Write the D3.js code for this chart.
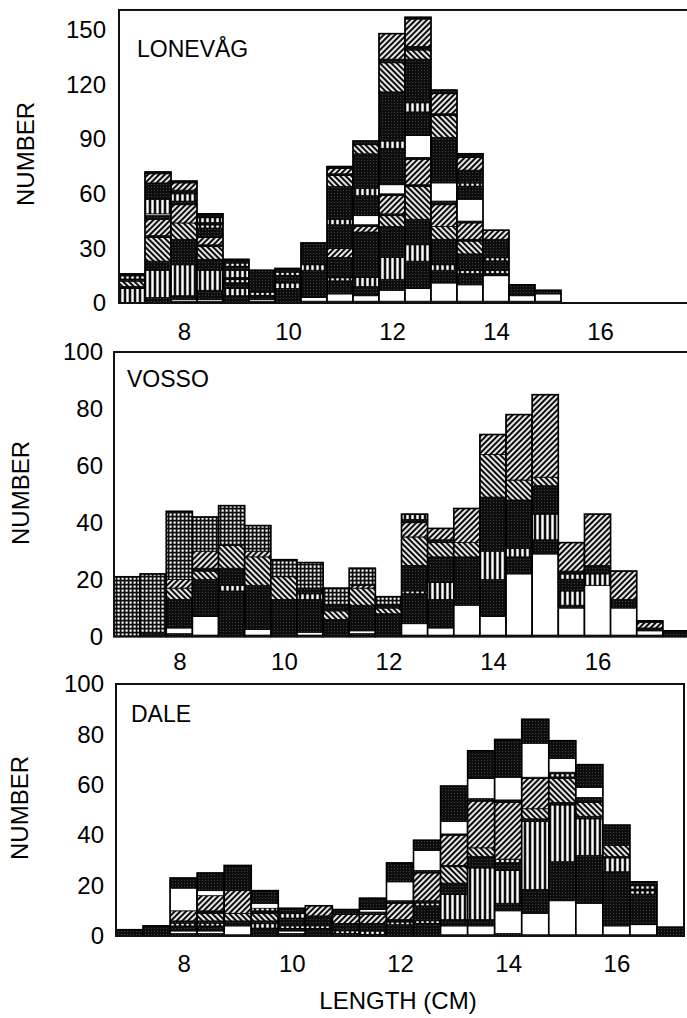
<!DOCTYPE html>
<html>
<head>
<meta charset="utf-8">
<script src="https://cdn.jsdelivr.net/npm/d3@7/dist/d3.min.js"></script>
<style>
  body { margin: 0; background: #fff; }
  text { font-family: "Liberation Sans", Arial, Helvetica, sans-serif; fill: #000; }
</style>
</head>
<body>
<div id="vis"></div>
<script>
/*
Data
*/

// bin centres (cm), bins are 0.5 cm wide
const binCentres = [7, 7.5, 8, 8.5, 9, 9.5, 10, 10.5, 11, 11.5, 12, 12.5,
                    13, 13.5, 14, 14.5, 15, 15.5, 16, 16.5, 17, 17.5];

// one string per bin, stacked bottom to top: class code + count
// w = open, k = stippled, v = vertical bars, d = dashes, f = hatch /, b = hatch \, g = grid
const lonevagStacks = [
  "v8 k1 b3 k1 d2 k1",
  "k3 v15 k5 b13 k1 f9 k2 w1 v8 k9 f5 k1",
  "k1 w1 k2 v17 k14 b9 f10 k2 v4 k2 f4 k1",
  "k1 w1 k5 v11 k6 b7 k1 f4 k5 d2 k1 d3 k2",
  "k4 v4 k3 d2 k1 v4 k2 d2 k2",
  "k1 w1 k2 d2 k12",
  "k8 v3 k4 d2 k2",
  "k1 w2 k15 v3 k12",
  "k1 w4 k7 d2 k11 f5 k13 v3 k18 b6 k1 f3 k1",
  "k1 w3 k5 v5 k25 f3 k1 w5 k11 v4 k19 b5 k2",
  "k1 w6 k6 v12 k17 b6 k1 f10 k1 w5 k20 v4 k27 b16 k2 f14",
  "k1 w7 k15 v9 k14 b18 k1 f14 k1 w12 k13 v5 k24 b5 k2 f15 k1",
  "k1 w10 k7 v3 k14 b7 f12 k2 w10 k25 b12 k1 f11 k2",
  "k1 w9 k6 d2 k9 b7 k1 f9 k1 w12 k7 d2 k7 f7 k2",
  "k1 w14 k1 d2 k5 d2 k10 f5",
  "k1 w3 k6",
  "k1 w4 k2",
  "", "", "", "", ""
];

const vossoStacks = [
  "g21",
  "k1 g21",
  "k1 w2 k10 b4 f3 g24",
  "k0.5 w6.5 k13 b3 k1 f6 g12",
  "k16 v2 k6 b8 g14",
  "k0.5 w2 k15.5 b10 f2 g9",
  "k13 b8 g6",
  "k0.5 w1 k11.5 v2 k2 g9",
  "k6 b3 k2 g6",
  "k1 w1 k9 b6 f1 g6",
  "k8 b2 k1 g3",
  "k0.5 w4 k10.5 d1 k9 b10 f5 k1 d2",
  "k0.5 w2.5 k10 v6 k9 b5 k1 f4",
  "k0.5 w10.5 k17 b5 f12",
  "k0.5 w6.5 k13 v10 k19 b15 f7",
  "k0.5 w21.5 k6 v3 k17 b7 f23",
  "k0.5 w28.5 k5 v9 k10 b3 f29",
  "k0.5 w9.5 k1 v5 k4 d2 k1 f10",
  "k0.5 w17.5 v4 k3 f18",
  "k0.5 w9.5 k3 f10",
  "k0.5 w1.5 k1 f2 k0.5",
  "k2"
];

const daleStacks = [
  "k2.5",
  "k4",
  "k1 w1 k2 d1 k1 f4 w9 k4",
  "k1 w1 k2 d1 k1 b3 k1 f6 w2 k7",
  "k0.5 w3.5 k2 b3 f9 k10",
  "k3 d2 k1 b3 k1 d1 w2 k5",
  "k1 w1 k1 d1 k3 d2 k2",
  "k3 d1 k4 f4",
  "k1 d1 k3 f3.5 k2",
  "k0.5 d1.5 k3 f3.5 k1 w1 k4.5",
  "k4.5 d1 k1 f6.5 k1 w7.5 k7.5",
  "k5 d1 k6 d1 k1 f11 k1 w8 k4",
  "k0.5 w3.5 k2.5 v10 k4.5 b6.5 k0.5 f12 k0.5 w5 k14",
  "k0.5 w3.5 k2.5 v20.5 k4.5 b3.5 f18.5 k1 w8 k11",
  "k1 w9 k3 v13 k3 d1.5 f22.5 k1 w9 k15",
  "k0.5 w8.5 k9.5 v27 k1 b4 f12 k0.5 w13.5 k9.5",
  "k0.5 w13.5 k15.5 v22.5 k1 b9.5 k0.5 d1.5 k0.5 w5.5 k7",
  "k0.5 w12.5 k19 v14.5 k1 b5.5 k2 w4 k9",
  "k0.5 w3.5 k21.5 v5.5 k0.5 b4.5 k8",
  "k0.5 w4 k12 d1.5 k0.5 d1.5 k1.5",
  "k3.5",
  ""
];

const lonevagTicks = [0, 30, 60, 90, 120, 150];
const numberTicks = [0, 20, 40, 60, 80, 100];
const lengthTicks = [8, 10, 12, 14, 16];

/*
Layout (the scanned panels are not quite the same size)
*/

const panels = [
  {name: "LONEVÅG", stacks: lonevagStacks, yTicks: lonevagTicks,
   yDomain: [0, 150], yRange: [303, 30], yMax: 161,
   xDomain: [6.75, 17.75], xRange: [119, 691],
   yPad: 13, xPad: 19.5, nameX: 137, nameY: 57, titleX: 26, titleY: 154},
  {name: "VOSSO", stacks: vossoStacks, yTicks: numberTicks,
   yDomain: [0, 100], yRange: [636.5, 352], yMax: 100,
   xDomain: [6.75, 17.75], xRange: [114, 689],
   yPad: 11, xPad: 16.5, nameX: 127, nameY: 387, titleX: 21, titleY: 493},
  {name: "DALE", stacks: daleStacks, yTicks: numberTicks,
   yDomain: [0, 100], yRange: [936, 684], yMax: 100,
   xDomain: [6.75, 17.25], xRange: [116, 684],
   yPad: 12, xPad: 18.5, nameX: 131, nameY: 722, titleX: 20, titleY: 808}
];

const WIDTH = 687;
const HEIGHT = 1018;

/*
Functions
*/

// turns "w3 k10 f2" into segments with cumulative bottoms and tops
function stackSegments(code) {
  let top = 0;
  return code.split(" ").filter(s => s.length).map(s => {
    const seg = {kind: s[0], y0: top, y1: top + (+s.slice(1))};
    top = seg.y1;
    return seg;
  });
}

const svg = d3.select("#vis")
              .append("svg")
              .attr("width", WIDTH)
              .attr("height", HEIGHT);

/*
Fill patterns
*/

const defs = svg.append("defs");

const stipple = defs.append("pattern").attr("id", "pk")
                    .attr("width", 3).attr("height", 3)
                    .attr("patternUnits", "userSpaceOnUse");
stipple.append("rect").attr("width", 3).attr("height", 3).attr("fill", "#0e0e0e");
stipple.append("rect").attr("x", 1).attr("y", 1).attr("width", 1).attr("height", 1).attr("fill", "#404040");

function stripePattern(id, period, white, angle) {
  const p = defs.append("pattern").attr("id", id)
                .attr("width", period).attr("height", period)
                .attr("patternUnits", "userSpaceOnUse")
                .attr("patternTransform", `rotate(${angle})`);
  p.append("rect").attr("width", period).attr("height", period).attr("fill", "#0e0e0e");
  p.append("rect").attr("x", (period - white) / 2).attr("width", white)
   .attr("height", period).attr("fill", "#fff");
}
stripePattern("pf", 4, 1.8, 45);
stripePattern("pb", 4, 1.8, -45);
stripePattern("pv", 5, 2.4, 0);

const grid = defs.append("pattern").attr("id", "pg")
                 .attr("width", 4).attr("height", 4)
                 .attr("patternUnits", "userSpaceOnUse");
grid.append("rect").attr("width", 4).attr("height", 4).attr("fill", "#0e0e0e");
grid.append("rect").attr("x", 1.5).attr("y", 1.5).attr("width", 2.2).attr("height", 2.2).attr("fill", "#fff");

const fillFor = {w: "#fff", k: "url(#pk)", v: "url(#pv)", d: "url(#pk)",
                 f: "url(#pf)", b: "url(#pb)", g: "url(#pg)"};

/*
Main
*/

panels.forEach(p => {
  const x = d3.scaleLinear().domain(p.xDomain).range(p.xRange);
  const y = d3.scaleLinear().domain(p.yDomain).range(p.yRange);
  const bw = x(0.5) - x(0);

  const g = svg.append("g").attr("class", "panel");

  const barData = binCentres.map((c, i) => ({centre: c, segs: stackSegments(p.stacks[i])}))
                            .filter(d => d.segs.length);

  const bars = g.selectAll("g.bar")
                .data(barData)
                .join("g")
                .attr("class", "bar");

  bars.selectAll("rect.seg")
      .data(d => d.segs.map(s => ({...s, centre: d.centre})))
      .join("rect")
      .attr("class", "seg")
      .attr("x", d => x(d.centre - 0.25))
      .attr("y", d => y(d.y1))
      .attr("width", bw)
      .attr("height", d => y(d.y0) - y(d.y1))
      .attr("fill", d => fillFor[d.kind])
      .attr("stroke", "#000")
      .attr("stroke-width", 0.8);

  // dashed bands: a short row of white ticks inside a dark band
  bars.selectAll("rect.dash")
      .data(d => d.segs.filter(s => s.kind === "d").map(s => ({...s, centre: d.centre})))
      .join("rect")
      .attr("class", "dash")
      .attr("x", d => x(d.centre - 0.25) + 1)
      .attr("width", bw - 2)
      .attr("y", d => {
        const h = y(d.y0) - y(d.y1);
        return y(d.y1) + (h - Math.max(1.6, h - 1.6)) / 2;
      })
      .attr("height", d => Math.max(1.6, y(d.y0) - y(d.y1) - 1.6))
      .attr("fill", "url(#pv)");

  bars.append("rect")
      .attr("x", d => x(d.centre - 0.25))
      .attr("y", d => y(d.segs[d.segs.length - 1].y1))
      .attr("width", bw)
      .attr("height", d => y(0) - y(d.segs[d.segs.length - 1].y1))
      .attr("fill", "none")
      .attr("stroke", "#000")
      .attr("stroke-width", 1.6);

  // frame
  g.append("rect")
   .attr("x", p.xRange[0])
   .attr("y", y(p.yMax))
   .attr("width", p.xRange[1] - p.xRange[0])
   .attr("height", y(0) - y(p.yMax))
   .attr("fill", "none")
   .attr("stroke", "#111")
   .attr("stroke-width", 2);

  // axes, labels only
  const yAxis = g.append("g")
                 .attr("transform", `translate(${p.xRange[0]},0)`)
                 .call(d3.axisLeft(y).tickValues(p.yTicks).tickSize(0).tickPadding(p.yPad));
  const xAxis = g.append("g")
                 .attr("transform", `translate(0,${y(0)})`)
                 .call(d3.axisBottom(x).tickValues(lengthTicks).tickSize(0).tickPadding(p.xPad));
  [yAxis, xAxis].forEach(a => {
    a.select(".domain").remove();
    a.attr("font-family", null).attr("font-size", null);
    a.selectAll("text").style("font-size", "24px").attr("fill", "#000");
  });

  g.append("text")
   .attr("x", p.nameX)
   .attr("y", p.nameY)
   .style("font-size", "23px")
   .text(p.name);

  g.append("text")
   .attr("transform", `translate(${p.titleX},${p.titleY}) rotate(-90)`)
   .attr("text-anchor", "middle")
   .attr("dy", "0.35em")
   .style("font-size", "24px")
   .text("NUMBER");
});

svg.append("text")
   .attr("x", 398)
   .attr("y", 1001)
   .attr("dy", "0.35em")
   .attr("text-anchor", "middle")
   .style("font-size", "24px")
   .text("LENGTH (CM)");
</script>
</body>
</html>
